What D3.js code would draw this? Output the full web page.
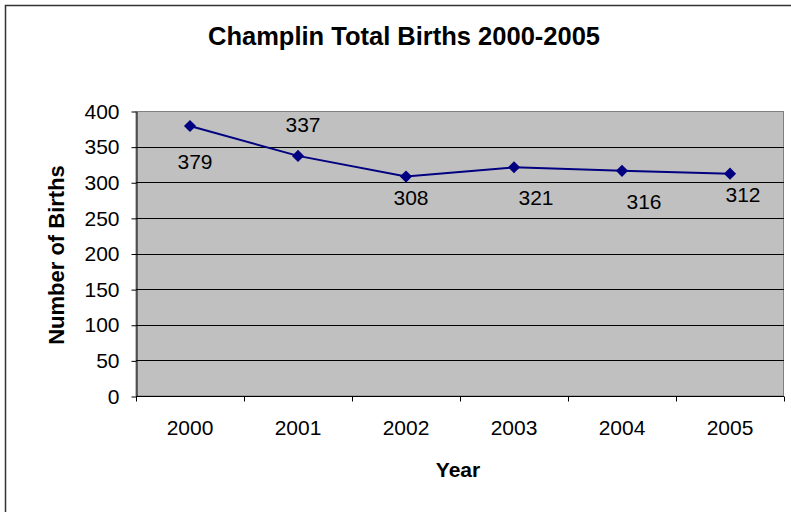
<!DOCTYPE html>
<html>
<head>
<meta charset="utf-8">
<script src="https://cdn.jsdelivr.net/npm/d3@7"></script>
<style>
  body { margin: 0; background: #fff; }
  svg { display: block; font-family: Arial, "Liberation Sans", sans-serif; }
</style>
</head>
<body>
<div id="chart"></div>
<script>
const years = ['2000', '2001', '2002', '2003', '2004', '2005']
const births = [379, 337, 308, 321, 316, 312]
const yTicks = [0, 50, 100, 150, 200, 250, 300, 350, 400]
// hand placed data labels (offset from the marker, in px)
const labelOffsets = [[5, 43], [5, -24], [5, 28], [22, 38], [22, 38], [13, 28]]

const W = 791
const H = 512
const plot = { left: 136, top: 111, right: 784, bottom: 396 }

const svg = d3.select('#chart')
  .append('svg')
  .attr('width', W)
  .attr('height', H)

// outer chart frame (right / bottom edges run off the picture)
svg.append('rect')
  .attr('x', 5.5)
  .attr('y', 5.5)
  .attr('width', W + 10)
  .attr('height', H + 10)
  .attr('fill', '#fff')
  .attr('stroke', '#333')
  .attr('stroke-width', 1.5)

const x = d3.scaleBand()
  .domain(years)
  .range([plot.left, plot.right])

const y = d3.scaleLinear()
  .domain([0, 400])
  .range([plot.bottom, plot.top])

// plot area
svg.append('rect')
  .attr('x', plot.left)
  .attr('y', plot.top + 0.5)
  .attr('width', plot.right - plot.left - 0.5)
  .attr('height', plot.bottom - plot.top - 0.5)
  .attr('fill', '#c0c0c0')
  .attr('stroke', '#808080')
  .attr('stroke-width', 1)

// gridlines
svg.append('g')
  .selectAll('line')
  .data(yTicks.filter(d => d > 0 && d < 400))
  .join('line')
  .attr('x1', plot.left)
  .attr('x2', plot.right)
  .attr('y1', d => Math.round(y(d)) + 0.5)
  .attr('y2', d => Math.round(y(d)) + 0.5)
  .attr('stroke', '#000')
  .attr('stroke-width', 1)

// y axis
const yAxis = svg.append('g')
  .attr('transform', `translate(${plot.left + 0.5},0.5)`)
  .call(d3.axisLeft(y).tickValues(yTicks).tickSize(5).tickPadding(12).tickSizeOuter(0))
yAxis.select('.domain').attr('stroke', '#000')
yAxis.selectAll('.tick line').attr('stroke', '#000')
yAxis.selectAll('.tick text')
  .attr('font-size', 21)
  .attr('font-family', 'Arial, "Liberation Sans", sans-serif')
  .attr('fill', '#000')

// x axis, ticks between categories
const xAxis = svg.append('g')
  .attr('transform', `translate(0,${plot.bottom + 0.5})`)
xAxis.append('line')
  .attr('x1', plot.left)
  .attr('x2', plot.right)
  .attr('stroke', '#000')
xAxis.selectAll('line.tk')
  .data(d3.range(years.length + 1))
  .join('line')
  .attr('class', 'tk')
  .attr('x1', i => Math.round(plot.left + i * x.step()) + 0.5)
  .attr('x2', i => Math.round(plot.left + i * x.step()) + 0.5)
  .attr('y1', 0)
  .attr('y2', 5)
  .attr('stroke', '#000')
xAxis.selectAll('text')
  .data(years)
  .join('text')
  .attr('x', d => x(d) + x.bandwidth() / 2)
  .attr('y', 38)
  .attr('text-anchor', 'middle')
  .attr('font-size', 21)
  .attr('fill', '#000')
  .text(d => d)

// series line + markers
const pts = years.map((yr, i) => ({ yr, v: births[i], off: labelOffsets[i] }))
const line = d3.line()
  .x(d => x(d.yr) + x.bandwidth() / 2)
  .y(d => y(d.v))

svg.append('path')
  .datum(pts)
  .attr('d', line)
  .attr('fill', 'none')
  .attr('stroke', '#000080')
  .attr('stroke-width', 2)

svg.selectAll('path.mk')
  .data(pts)
  .join('path')
  .attr('class', 'mk')
  .attr('d', d3.symbol(d3.symbolSquare, 74))
  .attr('transform', d => `translate(${x(d.yr) + x.bandwidth() / 2},${y(d.v)}) rotate(45)`)
  .attr('fill', '#000080')

svg.selectAll('text.lbl')
  .data(pts)
  .join('text')
  .attr('class', 'lbl')
  .attr('x', d => x(d.yr) + x.bandwidth() / 2 + d.off[0])
  .attr('y', d => y(d.v) + d.off[1])
  .attr('text-anchor', 'middle')
  .attr('font-size', 21)
  .attr('fill', '#000')
  .text(d => d.v)

// titles
svg.append('text')
  .attr('x', 404)
  .attr('y', 45)
  .attr('text-anchor', 'middle')
  .attr('font-size', 25.5)
  .attr('font-weight', 'bold')
  .text('Champlin Total Births 2000-2005')

svg.append('text')
  .attr('x', 458)
  .attr('y', 477)
  .attr('text-anchor', 'middle')
  .attr('font-size', 21)
  .attr('font-weight', 'bold')
  .text('Year')

svg.append('text')
  .attr('transform', 'translate(64,255) rotate(-90)')
  .attr('text-anchor', 'middle')
  .attr('font-size', 22)
  .attr('font-weight', 'bold')
  .text('Number of Births')
</script>
</body>
</html>
